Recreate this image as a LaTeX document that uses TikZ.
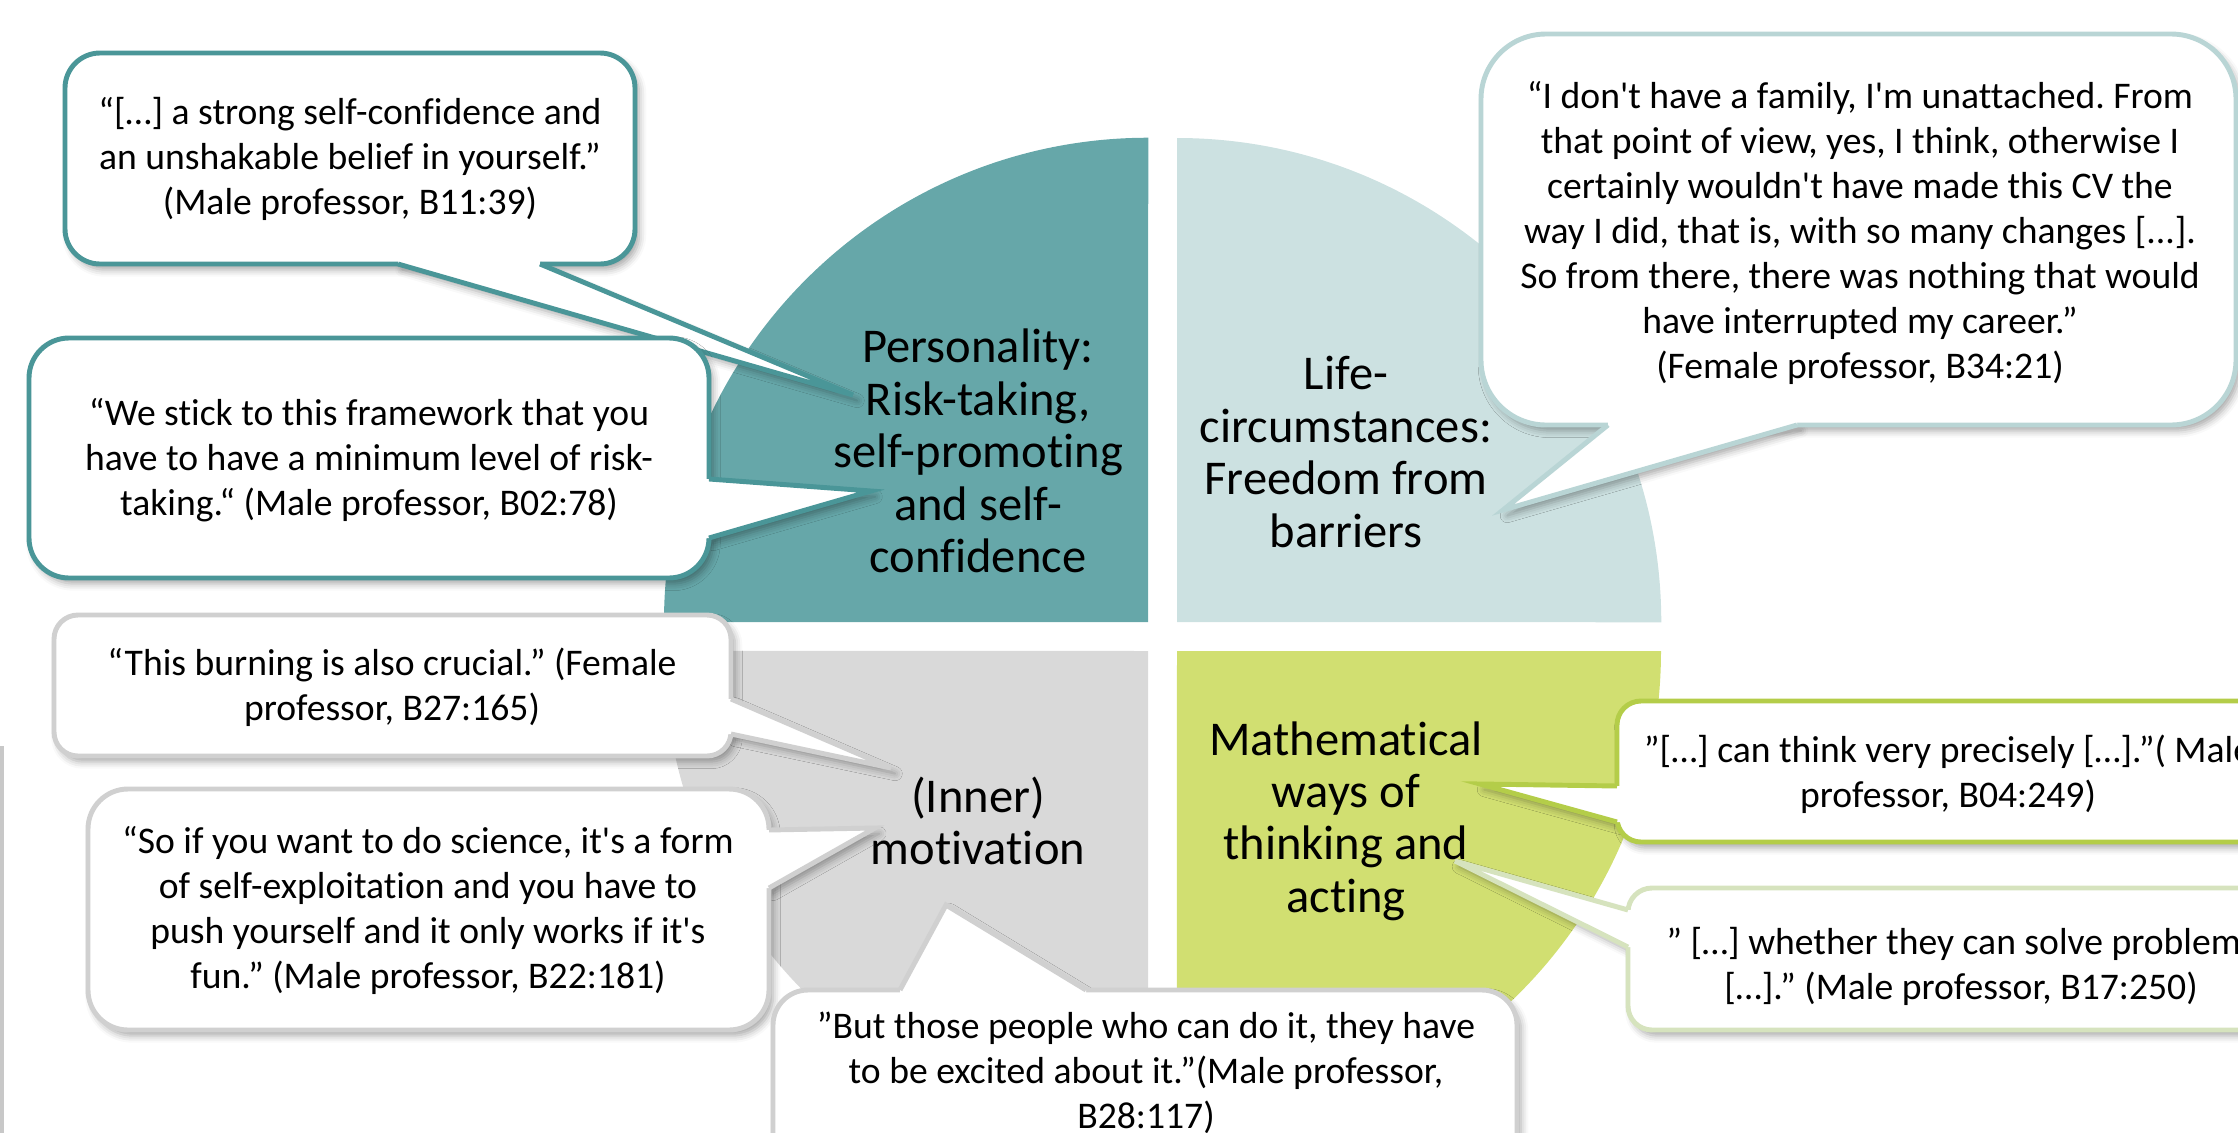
\documentclass[tikz,border=0pt]{standalone}
\usepackage{fontspec}
\setmainfont{Carlito}[Ligatures=NoCommon]
\usetikzlibrary{calc,shadows.blur}
\newcommand\ap{\XeTeXglyph\XeTeXcharglyph"0027\relax}

\definecolor{tealfill}{HTML}{66A7A9}
\definecolor{tealline}{HTML}{4A9698}
\definecolor{bluefill}{HTML}{CCE1E1}
\definecolor{blueline}{HTML}{B9D5D5}
\definecolor{greyfill}{HTML}{D9D9D9}
\definecolor{greyline}{HTML}{D0D0D0}
\definecolor{greenfill}{HTML}{D1DF71}
\definecolor{greenline}{HTML}{B4CD49}
\definecolor{paleline}{HTML}{D6E3BE}
\definecolor{edgeline}{HTML}{C8C8C8}

\tikzset{
  quote/.style={font=\fontsize{10.7}{12.8}\selectfont, align=center, inner sep=0pt},
  label/.style={font=\fontsize{13.8}{14.9}\selectfont, align=center, inner sep=0pt},
  cshadow/.style={blur shadow={shadow xshift=1.2pt, shadow yshift=-1.6pt,
      shadow blur radius=2pt, shadow opacity=35}},
}

% speech bubble: #1 line colour, #2/#3 box corners, #4 corner radius,
% #5 pointer base a, #6 pointer tip, #7 pointer base b, #8 shift into the box
\newcommand\speech[8]{%
  \path[cshadow, fill=white] (#5) -- (#6) -- (#7) -- cycle;
  \path[cshadow, fill=white, rounded corners=#4] (#2) rectangle (#3);
  \draw[#1, line width=1.4pt, fill=white, rounded corners=#4] (#2) rectangle (#3);
  \fill[white] (#5) -- (#6) -- (#7) -- ($(#7)+(#8)$) -- ($(#5)+(#8)$) -- cycle;
  \draw[#1, line width=1.4pt, line join=miter] (#5) -- (#6) -- (#7);
}

\begin{document}
\frenchspacing
\begin{tikzpicture}[x=0.01cm, y=-0.01cm]
\useasboundingbox (0,0) rectangle (2238,1133);
\clip (0,0) rectangle (2238,1133);

% four quarter wedges
\fill[tealfill]  (1148,622) -- (664,622)  arc[start angle=180, end angle=90,  radius=4.84cm] -- cycle;
\fill[bluefill]  (1177,622) -- (1177,138) arc[start angle=90,  end angle=0,   radius=4.84cm] -- cycle;
\fill[greyfill]  (1148,651) -- (1148,1135) arc[start angle=270, end angle=180, radius=4.84cm] -- cycle;
\fill[greenfill] (1177,651) -- (1661,651) arc[start angle=0,   end angle=-90, radius=4.84cm] -- cycle;

% thin rule at the left margin
\draw[edgeline, line width=0.9pt] (2,746) -- (2,1140);

% wedge captions
\node[label] (pers) at (978,451) {Personality:\\Risk-taking,\\self-promoting\\and self-\\confidence};
\node[label] (life) at (1346,452) {Life-\\circumstances:\\Freedom from\\barriers};
\node[label] (motiv) at (978,821) {(Inner)\\motivation};
\node[label] (math) at (1346,821) {Mathematical\\ways of\\thinking and\\acting};

% personality quotes
\speech{tealline}{65,53}{635,264}{3.5mm}{398,264}{853,395}{540,264}{0,-8}
\node[quote] (q1) at (350,159) {“[…] a strong self-confidence and\\an unshakable belief in yourself.”\\(Male professor, B11:39)};
\speech{tealline}{29,338}{709,578}{4mm}{709,479}{871,491}{709,538}{-8,0}
\node[quote] (q2) at (369,460) {“We stick to this framework that you\\have to have a minimum level of risk-\\taking.“ (Male professor, B02:78)};

% life circumstances quote
\speech{blueline}{1481,34}{2236,425}{6.5mm}{1608,425}{1503,510}{1797,425}{0,-8}
\node[quote] (q3) at (1860,233) {“I don\ap t have a family, I\ap m unattached. From\\that point of view, yes, I think, otherwise I\\certainly wouldn\ap t have made this CV the\\way I did, that is, with so many changes [...].\\So from there, there was nothing that would\\have interrupted my career.”\\(Female professor, B34:21)};

% motivation quotes
\speech{greyline}{54,615}{731,756}{2.4mm}{731,699}{891,768}{731,734}{-8,0}
\node[quote] (q4) at (392,687) {“This burning is also crucial.” (Female\\professor, B27:165)};
\speech{greyline}{88,789}{769,1030}{4mm}{769,830}{875,828}{769,888}{-8,0}
\node[quote] (q5) at (428,910) {“So if you want to do science, it\ap s a form\\of self-exploitation and you have to\\push yourself and it only works if it\ap s\\fun.” (Male professor, B22:181)};
\speech{greyline}{773,990}{1517,1240}{3.5mm}{900,990}{946,905}{1086,990}{0,8}
\node[quote] (q6) at (1146,1073) {”But those people who can do it, they have\\to be excited about it.”(Male professor,\\B28:117)};

% mathematical thinking quotes
\speech{greenline}{1617,701}{2273,842}{2.4mm}{1617,786}{1480,784}{1617,822}{8,0}
\node[quote] (q7) at (1948,774) {”[…] can think very precisely […].”( Male\\professor, B04:249)};
\speech{paleline}{1628,888}{2290,1030}{2.4mm}{1628,910}{1455,861}{1628,947}{8,0}
\node[quote] (q8) at (1961,966) {” […] whether they can solve problems\\{}[…].” (Male professor, B17:250)};
\end{tikzpicture}
\end{document}
